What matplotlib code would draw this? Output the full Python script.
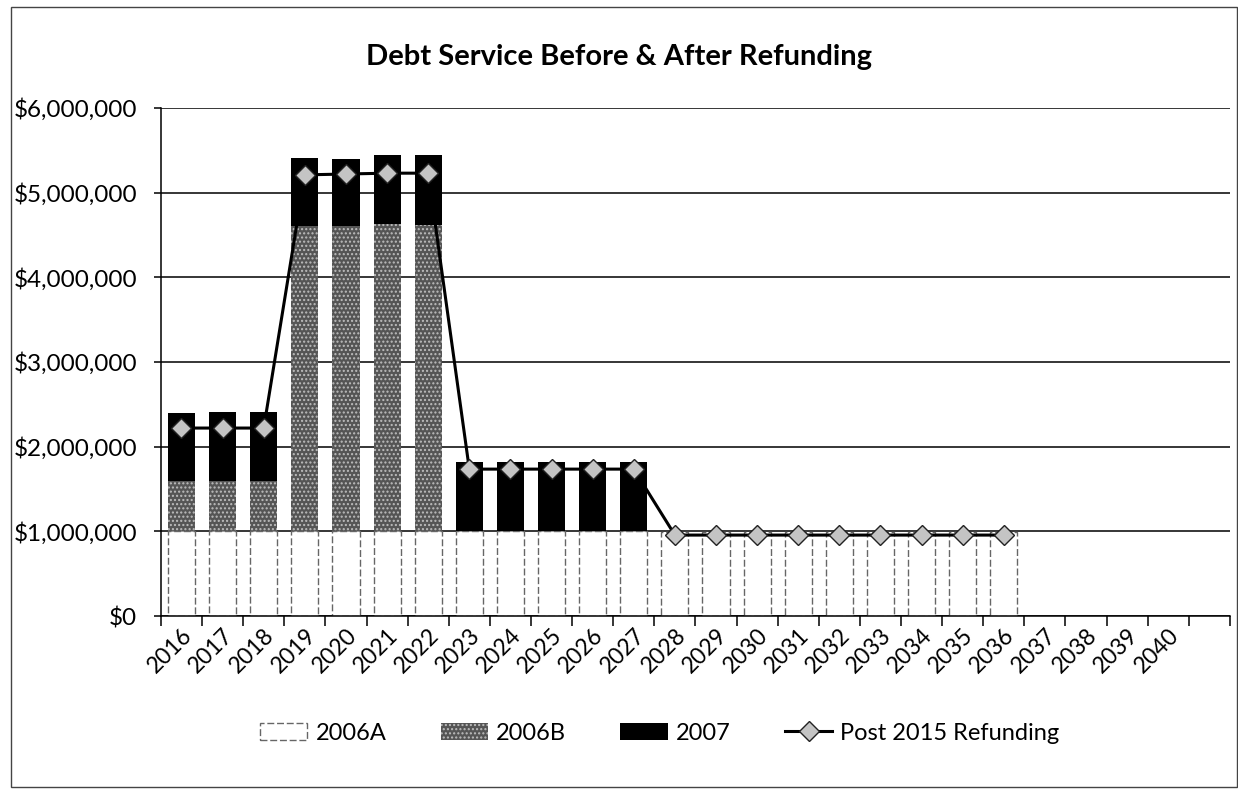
import numpy as np
import matplotlib
matplotlib.use("Agg")
import matplotlib.pyplot as plt
from matplotlib.ticker import FuncFormatter, FixedLocator
from matplotlib.patches import Rectangle

plt.rcParams['font.family'] = ['Lato', 'DejaVu Sans']
plt.rcParams['hatch.linewidth'] = 1.0

# Debt service by series, fiscal years 2016-2040
years = [str(y) for y in range(2016, 2041)]
s2006a = [1000000] * 12 + [990000] * 9
s2006b = [600000, 600000, 600000, 3610000, 3610000, 3630000, 3620000]
s2007 = [800000, 810000, 810000, 800000, 790000, 810000, 820000,
         820000, 820000, 820000, 820000, 820000]
post_refunding = [2220000, 2220000, 2220000, 5210000, 5220000, 5230000, 5230000,
                  1735000, 1735000, 1735000, 1735000, 1735000,
                  956000, 956000, 956000, 956000, 956000, 956000, 956000, 956000, 956000]

n_cat = len(years) + 1  # one empty slot at the right end like the source
w = 0.66

fig = plt.figure(figsize=(12.38, 7.91), dpi=100)
ax = fig.add_axes([0.130, 0.2212, 0.8635, 0.6423])

xa = np.arange(len(s2006a))
ax.bar(xa, s2006a, w, color='white', edgecolor='#666666', linewidth=1.0,
       linestyle=(0, (5, 2)), zorder=2, label='2006A')
xb = np.arange(len(s2006b))
bottom_b = np.array(s2006a[:len(s2006b)])
ax.bar(xb, s2006b, w, bottom=bottom_b, color='#555555', edgecolor='#bdbdbd',
       linewidth=0, hatch='....', zorder=2, label='2006B')
xc = np.arange(len(s2007))
bottom_c = np.array(s2006a[:len(s2007)], dtype=float)
bottom_c[:len(s2006b)] += np.array(s2006b)
ax.bar(xc, s2007, w, bottom=bottom_c, color='black', linewidth=0, zorder=2, label='2007')

xl = np.arange(len(post_refunding))
ax.plot(xl, post_refunding, color='black', lw=2.2, marker='D', ms=10,
        mfc='#c4c4c4', mec='#222222', mew=1.0, zorder=3, label='Post 2015 Refunding')

ax.set_ylim(0, 6000000)
ax.set_xlim(-0.5, n_cat - 0.5)
ax.set_yticks(np.arange(0, 6000001, 1000000))
ax.yaxis.set_major_formatter(FuncFormatter(lambda v, p: '${:,.0f}'.format(v)))
ax.yaxis.grid(True, color='black', lw=1.1, zorder=0)
ax.set_axisbelow(True)

# tick marks between categories, labels at centres
ax.xaxis.set_major_locator(FixedLocator(np.arange(-0.5, n_cat, 1.0)))
ax.xaxis.set_major_formatter(FuncFormatter(lambda v, p: ''))
ax.set_xticks(np.arange(len(years)), years, minor=True)
ax.tick_params(axis='x', which='major', length=7, width=1.1, direction='out')
ax.tick_params(axis='x', which='minor', length=0, pad=6)
for lab in ax.get_xticklabels(minor=True):
    lab.set_rotation(45)
    lab.set_ha('right')
    lab.set_rotation_mode('anchor')
    lab.set_fontsize(16.5)
ax.tick_params(axis='y', length=5, width=1.1, labelsize=17.5, pad=12)

for s in ['top', 'right']:
    ax.spines[s].set_visible(False)
ax.spines['left'].set_linewidth(1.1)
ax.spines['bottom'].set_linewidth(1.1)

fig.text(0.5, 1 - 57 / 791, 'Debt Service Before & After Refunding', ha='center',
         va='center', fontsize=21, fontweight='bold')

handles, labels = ax.get_legend_handles_labels()
order = [1, 2, 3, 0]
fig.legend([handles[i] for i in order], [labels[i] for i in order],
           loc='center', bbox_to_anchor=(0.533, 1 - 733 / 791), ncol=4,
           frameon=False, fontsize=17, handlelength=2.0, columnspacing=2.3,
           handletextpad=0.35)

fig.patches.append(Rectangle((0.009, 0.005), 0.99, 0.986, transform=fig.transFigure,
                             fill=False, edgecolor='#444444', lw=1.0))

fig.savefig('out.png', dpi=100)
